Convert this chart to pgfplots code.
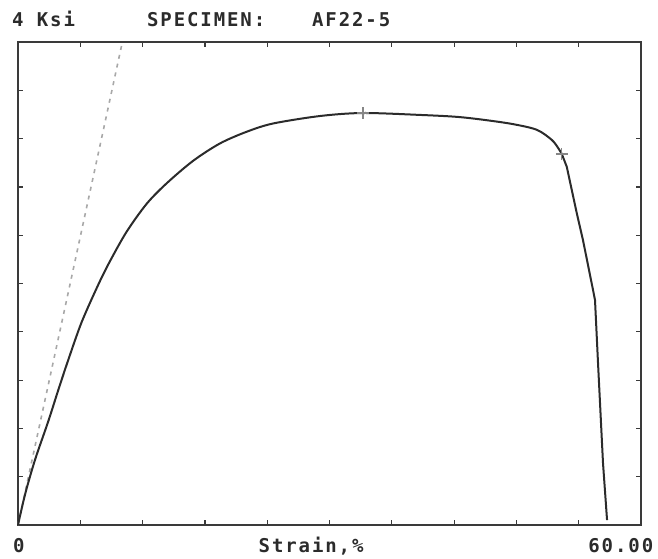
\documentclass[border=0pt]{standalone}
\usepackage{pgfplots}
\pgfplotsset{compat=1.18}
\usepackage{fontspec}
\setmainfont{DejaVu Sans Mono}[LetterSpace=10]
\definecolor{ink}{HTML}{2B2B2B}
\definecolor{frame}{HTML}{3A3A3A}
\definecolor{dashgray}{HTML}{A8A8A8}
\begin{document}
\begin{tikzpicture}
\begin{axis}[
  name=ax,
  scale only axis,
  width=311.5pt, height=241.5pt,
  xmin=0, xmax=60, ymin=0, ymax=40,
  xtick={0,6,...,60}, ytick={0,4,...,40},
  xticklabels={}, yticklabels={},
  tick pos=both, tick align=inside,
  major tick length=2.5pt,
  tick style={frame, line width=0.6pt},
  axis line style={frame, line width=1pt},
  clip=false,
]
% elastic (offset) line
\addplot[dashgray, line width=0.8pt, dash pattern=on 2pt off 2.5pt] coordinates {(0,0) (10.0,39.8)};
% stress-strain curve: loading and plateau
\addplot[ink, line width=1pt, smooth, tension=0.5] coordinates {
(0,0) (0.7,2.6) (1.64,5.4) (2.92,8.6) (3.88,11.18) (4.84,13.67)
(6.13,16.8) (7.73,19.9) (8.86,21.85) (10.47,24.3)
(12.39,26.6) (14.32,28.3) (16.85,30.15) (19.45,31.6) (22.03,32.57)
(24.56,33.25) (29.08,33.87) (33.23,34.12) (39.00,33.95) (42.28,33.8)
(44.9,33.55) (47.67,33.2) (49.96,32.73) (51.40,31.90) (52.04,31.20)
(52.37,30.73)};
% fracture drop
\addplot[ink, line width=1pt] coordinates {
(52.37,30.73) (52.85,29.67) (53.81,25.84) (54.41,23.60) (55.38,19.46) (55.57,18.63)
(55.86,13.42) (56.34,5.13) (56.73,0.41)};
% markers
\addplot[only marks, mark=+, mark size=3pt, dashgray!80!black, line width=0.6pt] coordinates {(33.23,34.12) (52.37,30.73)};
\end{axis}
\begin{scope}[every node/.style={inner sep=0pt, anchor=base west, font=\bfseries\fontsize{9.5}{11}\selectfont, text=ink}]
\node at ([shift={(-3.15pt,249.15pt)}]ax.south west) {4 Ksi};
\node at ([shift={(64.35pt,249.15pt)}]ax.south west) {SPECIMEN:};
\node at ([shift={(146.85pt,249.15pt)}]ax.south west) {AF22-5};
\node at ([shift={(-2.65pt,-13.5pt)}]ax.south west) {0};
\node at ([shift={(120.15pt,-13.5pt)}]ax.south west) {Strain,\%};
\node at ([shift={(285pt,-13.5pt)}]ax.south west) {60.00};
\end{scope}
\pgfresetboundingbox
\path[use as bounding box] ([shift={(-9pt,-16.5pt)}]ax.south west) rectangle ++(329pt,279pt);
\end{tikzpicture}
\end{document}
